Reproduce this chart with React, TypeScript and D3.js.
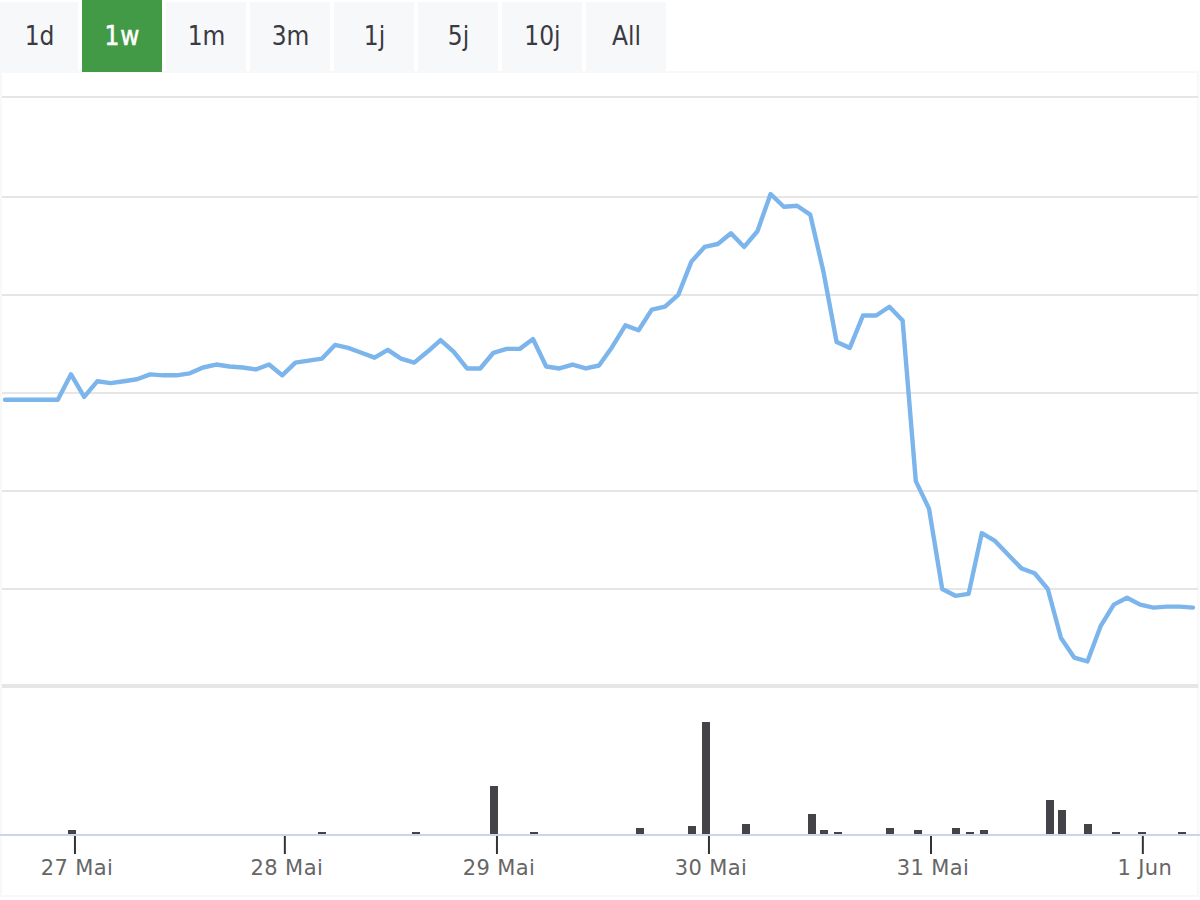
import { useRef, useEffect } from 'react'
import * as d3 from 'd3'

const rangeLabels = ['1d', '1w', '1m', '3m', '1j', '5j', '10j', 'All']
const activeRange = '1w'

// price, one point per step of the ordinal axis (y axis labels are hidden in the source)
const prices = [
  59.3, 59.3, 59.3, 59.3, 59.3, 61.9, 59.6, 61.2, 61.0, 61.2,
  61.4, 61.9, 61.8, 61.8, 62.0, 62.6, 62.9, 62.7, 62.6, 62.4,
  62.9, 61.8, 63.1, 63.3, 63.5, 64.9, 64.6, 64.1, 63.6, 64.4,
  63.5, 63.1, 64.2, 65.4, 64.2, 62.5, 62.5, 64.1, 64.5, 64.5,
  65.5, 62.7, 62.5, 62.9, 62.5, 62.8, 64.7, 66.9, 66.4, 68.5,
  68.8, 70.0, 73.4, 74.9, 75.2, 76.3, 74.9, 76.5, 80.3, 79.0,
  79.1, 78.2, 72.4, 65.2, 64.6, 67.9, 67.9, 68.8, 67.4, 51.0,
  48.2, 40.0, 39.3, 39.5, 45.7, 44.9, 43.5, 42.1, 41.6, 40.0,
  35.0, 33.0, 32.6, 36.2, 38.4, 39.1, 38.4, 38.1, 38.2, 38.2,
  38.1
]

const volumeIndex = [5, 24, 31, 37, 40, 48, 52, 53, 56, 61, 62, 63, 67, 69, 72, 73, 74, 79, 80, 82, 84, 86, 89]
const volumes = [4, 2, 2, 48, 2, 6, 8, 112, 10, 20, 4, 2, 6, 4, 6, 2, 4, 34, 24, 10, 2, 2, 2]

const gridValues = [40, 50, 60, 70, 80, 90.2]
const tickIndex = [5.3, 21.2, 37.27, 53.33, 70.15, 86.2]
const tickLabels = ['27 Mai', '28 Mai', '29 Mai', '30 Mai', '31 Mai', '1 Jun']

function App() {
  const ref = useRef<SVGSVGElement>(null)

  useEffect(() => {
    if (!ref.current) return
    const svg = d3.select(ref.current)
    svg.selectAll('*').remove()

    const width = 1200
    const height = 900

    const x = d3.scaleLinear().domain([0, prices.length - 1]).range([5, 1193])
    const xBars = d3.scaleLinear().domain([0, prices.length - 1]).range([5.4, 1194.67])
    const y = d3.scaleLinear().domain([30.2, 90.2]).range([685, 97])
    const yVol = d3.scaleLinear().domain([0, 112]).range([834, 722])

    // frame
    svg.append('rect')
      .attr('x', 1).attr('y', 72)
      .attr('width', width - 3).attr('height', height - 76)
      .attr('fill', '#fff')
      .attr('stroke', '#f8f8f8')
      .attr('stroke-width', 2)

    // range buttons
    const buttons = svg.append('g').selectAll('g')
      .data(rangeLabels)
      .enter()
      .append('g')
    buttons.append('rect')
      .attr('x', d => Math.max(0, 84 * rangeLabels.indexOf(d) - 2))
      .attr('y', d => d === activeRange ? 0 : 2)
      .attr('width', d => d === '1d' ? 78 : 80)
      .attr('height', d => d === activeRange ? 72 : 70)
      .attr('fill', d => d === activeRange ? '#439a46' : '#f7f8fa')
    buttons.append('text')
      .attr('x', d => d === '1d' ? 39.5 : 84 * rangeLabels.indexOf(d) + 38.5)
      .attr('y', 45)
      .attr('text-anchor', 'middle')
      .attr('font-family', '"DejaVu Sans Condensed", "DejaVu Sans", sans-serif')
      .attr('font-stretch', 'condensed')
      .attr('font-size', 26)
      .attr('fill', d => d === activeRange ? '#fff' : '#3a3a42')
      .attr('stroke', d => d === activeRange ? '#fff' : 'none')
      .attr('stroke-width', 0.5)
      .attr('letter-spacing', d => d === activeRange ? 1 : 0)
      .text(d => d)

    // grid
    svg.append('g').selectAll('line')
      .data(gridValues)
      .enter()
      .append('line')
      .attr('x1', 2).attr('x2', width - 2)
      .attr('y1', d => y(d)).attr('y2', d => y(d))
      .attr('stroke', '#e6e6e6')
      .attr('stroke-width', 2)

    // divider between price and volume panes
    svg.append('line')
      .attr('x1', 2).attr('x2', width - 2)
      .attr('y1', 686).attr('y2', 686)
      .attr('stroke', '#e6e6e6')
      .attr('stroke-width', 4)

    // price line
    const line = d3.line<number>()
      .x((_, i) => x(i))
      .y(d => y(d))
    svg.append('path')
      .datum(prices)
      .attr('d', line)
      .attr('fill', 'none')
      .attr('stroke', '#7cb5ec')
      .attr('stroke-width', 4.4)
      .attr('stroke-linejoin', 'round')
      .attr('stroke-linecap', 'round')

    // volume bars
    svg.append('g').selectAll('rect')
      .data(volumes)
      .enter()
      .append('rect')
      .attr('x', (_, i) => 2 * Math.round((xBars(volumeIndex[i]) - 4) / 2))
      .attr('y', d => yVol(d))
      .attr('width', 8)
      .attr('height', d => 834 - yVol(d))
      .attr('fill', '#434348')

    // x axis
    const axis = d3.axisBottom(x)
      .tickValues(tickIndex)
      .tickSize(18)
      .tickPadding(6)
      .tickFormat((_, i) => tickLabels[i])
    const axisG = svg.append('g')
      .attr('transform', 'translate(-0.5,836)')
      .call(axis)
    axisG.select('.domain').remove()
    axisG.selectAll('.tick line')
      .attr('stroke', '#333')
      .attr('stroke-width', 2)
    axisG.selectAll('.tick text')
      .attr('font-family', '"DejaVu Sans", sans-serif')
      .attr('font-size', 21)
      .attr('letter-spacing', 0.4)
      .attr('fill', '#666')
      .attr('dx', 2)
    svg.append('line')
      .attr('x1', 0).attr('x2', width)
      .attr('y1', 835).attr('y2', 835)
      .attr('stroke', '#ccd6eb')
      .attr('stroke-width', 2)
  }, [])

  return (
    <svg
      ref={ref}
      width={1200}
      height={900}
      style={{ position: 'absolute', left: 0, top: 0, background: '#fff' }}
    />
  )
}

export default App
